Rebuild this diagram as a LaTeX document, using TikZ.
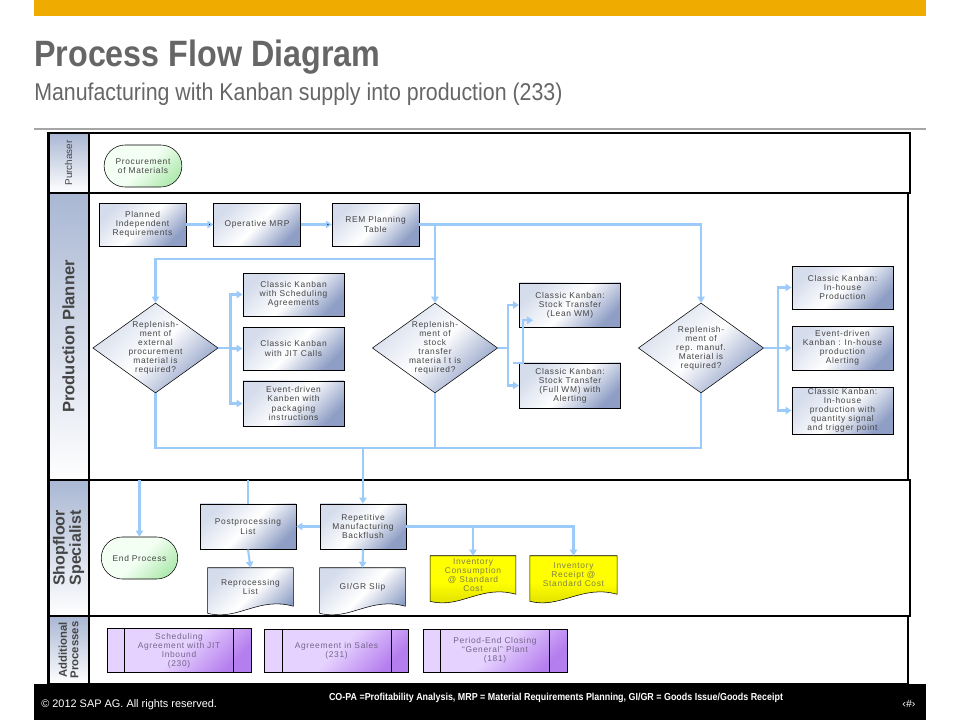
\documentclass[tikz,border=0pt]{standalone}
\usepackage{fontspec}
\setmainfont{Liberation Sans}
\newfontfamily\boxfont[LetterSpace=8]{Liberation Sans}
\newfontfamily\narrowfont[FakeStretch=0.88]{Liberation Sans}
\usepackage{tikz}
\usetikzlibrary{arrows.meta,calc,backgrounds,positioning,shapes.geometric,shapes.misc}

\definecolor{sapgold}{HTML}{F0AB00}
\definecolor{titlegrey}{HTML}{666666}
\definecolor{txtgrey}{HTML}{454545}
\definecolor{flowblue}{HTML}{9CCBFA}
\definecolor{boxdark}{HTML}{8E9EC5}
\definecolor{boxlight}{HTML}{D5DCEB}
\definecolor{lanedark}{HTML}{A9B7D3}
\definecolor{greenlight}{HTML}{F2FFF2}
\definecolor{greendark}{HTML}{B3EAB3}
\definecolor{purplelight}{HTML}{E6D2FF}
\definecolor{purpledark}{HTML}{B57EEE}
\definecolor{docyellow}{HTML}{FFFF00}
\definecolor{docdark}{HTML}{D8D800}
\definecolor{yellowtxt}{HTML}{80804A}
\definecolor{purpletxt}{HTML}{74658A}

\begin{document}
\begin{tikzpicture}[x=0.75pt,y=-0.75pt,
	font={\boxfont\fontsize{6.3}{6.8}\selectfont},
	box/.style={rectangle,draw,thin,align=center,text=txtgrey,inner sep=1pt,
		minimum width=65pt,minimum height=32pt,
		top color=boxlight,bottom color=boxdark,middle color=white,shading angle=45},
	wbox/.style={box,minimum width=76pt},
	dia/.style={diamond,draw,thin,align=center,text=txtgrey,inner sep=-8pt,
		minimum width=94pt,minimum height=67.5pt,
		top color=boxlight,bottom color=boxdark,middle color=white,shading angle=45},
	term/.style={rounded rectangle,draw,thin,align=center,text=txtgrey,
		minimum width=65pt,minimum height=31.5pt,
		top color=greenlight,bottom color=greendark,middle color=greenlight,shading angle=45},
	doc/.style={rectangle,align=center,text=txtgrey,inner sep=1pt,
		minimum width=64pt,minimum height=28.5pt},
	ydoc/.style={doc,text=yellowtxt},
	subproc/.style={rectangle,draw,thin,align=center,text=purpletxt,
		minimum width=108pt,minimum height=32pt,
		top color=purplelight,bottom color=purpledark,middle color=purplelight,shading angle=45},
	lanelab/.style={rectangle,draw,line width=1.5pt,rotate=90,align=center,text=txtgrey,
		minimum height=30pt,inner sep=1pt,top color=lanedark,bottom color=white},
	lane/.style={draw,line width=1.5pt},
	flow/.style={draw=flowblue,line width=1.6pt,-{Triangle[length=4.5pt,width=5.5pt]}},
	conn/.style={draw=flowblue,line width=1.6pt}]
	\useasboundingbox (0,0) rectangle (960,720);
	% Kopf
		\fill[sapgold] (34,0) rectangle (926,16);
		\node (title) [anchor=base west,inner sep=0pt,text=titlegrey,
			font={\narrowfont\bfseries\fontsize{27.5}{30}\selectfont}] at (34,67) {Process Flow Diagram};
		\node (subtitle) [anchor=base west,inner sep=0pt,text=titlegrey,
			font={\narrowfont\fontsize{18.2}{22}\selectfont}] at (34,101) {Manufacturing with Kanban supply into production (233)};
		\draw[gray!70,line width=0.8pt] (34,129) -- (926,129);
	% Bahnen
		\draw[lane] (48,133) rectangle (910,193);
		\draw[lane] (48,193) rectangle (908,480);
		\draw[lane] (48,480) rectangle (910,616);
		\draw[lane] (48,616) rectangle (908,684);
		\node (lpur) [lanelab,minimum width=45pt,font={\fontsize{7.4}{8}\selectfont}] at (68.5,163) {Purchaser};
		\node (lpp) [lanelab,minimum width=215.25pt,font={\bfseries\fontsize{12.4}{14}\selectfont}] at (68.5,336.5) {Production Planner};
		\node (lsf) [lanelab,minimum width=102pt,font={\bfseries\fontsize{12}{10.5}\selectfont}] at (68.5,548) {Shopfloor\\Specialist};
		\node (lap) [lanelab,minimum width=51pt,font={\bfseries\fontsize{8.5}{8.6}\selectfont}] at (68.5,650) {Additional\\Processes};
		\coordinate (sftop) at (0,480);
	% Knoten
		\node (proc) [term] at (143,166) {Procurement\\of Materials};
		\node (pir) [box] at (142.5,224.5) {Planned\\Independent\\Requirements};
		\node (mrp) [box] at (257,224.5) {Operative MRP};
		\node (rem) [box] at (375.5,224.5) {REM Planning\\Table};
		\node (dia1) [dia] at (155.5,348) {Replenish-\\ment of\\external\\procurement\\material is\\required?};
		\node (csa) [wbox] at (293.5,294.5) {Classic Kanban\\with Scheduling\\Agreements};
		\node (jit) [wbox] at (293.5,348.5) {Classic Kanban\\with JIT Calls};
		\node (evp) [wbox,minimum height=34pt] at (293.5,403.5) {Event-driven\\Kanben with\\packaging\\instructions};
		\node (dia2) [dia] at (435,348) {Replenish-\\ment of\\stock\\transfer\\materia l t is\\required?};
		\node (lean) [wbox,minimum height=33pt] at (570,305) {Classic Kanban:\\Stock Transfer\\(Lean WM)};
		\node (fullwm) [wbox,minimum height=34pt] at (570,385.5) {Classic Kanban:\\Stock Transfer\\(Full WM) with\\Alerting};
		\node (dia3) [dia] at (701,348) {Replenish-\\ment of\\rep. manuf.\\Material is\\required?};
		\node (cip) [wbox] at (842.5,287.5) {Classic Kanban:\\In-house\\Production};
		\node (eda) [wbox,minimum height=33pt] at (842.5,348) {Event-driven\\Kanban : In-house\\production\\Alerting};
		\node (cqs) [wbox,minimum height=34pt] at (842.5,410.5) {Classic Kanban:\\In-house\\production with\\quantity signal\\and trigger point};
		\node (endp) [term,minimum width=64pt] at (139.5,558) {End Process};
		\node (post) [box,minimum width=72pt,minimum height=34pt] at (248,526.5) {Postprocessing\\List};
		\node (rmb) [box,minimum width=64.5pt,minimum height=34pt] at (363,526.5) {Repetitive\\Manufacturing\\Backflush};
		\node (repro) [doc] at (250.5,587) {Reprocessing\\List};
		\node (gigr) [doc] at (362.5,587) {GI/GR Slip};
		\node (invcons) [ydoc] at (473,575) {Inventory\\Consumption\\@ Standard\\Cost};
		\node (invrec) [ydoc,minimum width=65pt] at (573.5,575) {Inventory\\Receipt @\\Standard Cost};
		\node (sja) [subproc] at (179,650.5) {Scheduling\\Agreement with JIT\\Inbound\\(230)};
		\node (ais) [subproc] at (336.5,650.5) {Agreement in Sales\\(231)};
		\node (pec) [subproc] at (495,650.5) {Period-End Closing\\“General” Plant\\(181)};
		\foreach \n in {sja,ais,pec} {
			\draw ($(\n.north west)+(18,0)$) -- ($(\n.south west)+(18,0)$);
			\draw ($(\n.north east)+(-18,0)$) -- ($(\n.south east)+(-18,0)$);
		}
		\begin{scope}[on background layer]
			\foreach \n in {repro,gigr}
				\draw[thin,top color=boxlight,bottom color=boxdark,middle color=white,shading angle=45]
					(\n.north west) -- (\n.north east) -- (\n.south east)
					.. controls +(-35,-10) and +(30,8) .. ($(\n.south west)+(0,7)$) -- cycle;
			\foreach \n in {invcons,invrec}
				\draw[thin,top color=docyellow,bottom color=docdark,middle color=docyellow]
					(\n.north west) -- (\n.north east) -- (\n.south east)
					.. controls +(-35,-10) and +(30,8) .. ($(\n.south west)+(0,7)$) -- cycle;
		\end{scope}
	% Kanten
		\coordinate (j1) at (435,259);
		\coordinate (bus) at (435,448);
		\draw[flow] (pir) edge (mrp);
		\draw[flow] (mrp) edge (rem);
		\draw[flow] (rem.east) -| (dia3.north);
		\draw[flow] (rem.east -| dia2.north) -- (dia2.north);
		\draw[flow] (j1) -| (dia1.north);
		\foreach \z in {csa,jit,evp} \draw[flow] (dia1.east) -- ++(12,0) |- (\z.west);
		\foreach \z in {lean,fullwm} \draw[flow] (dia2.east) -- ++(10,0) |- (\z.west);
		\draw[flow] ($(fullwm.north west)+(-6,0)$) -- ++(10,0) |- ($(lean.south west)+(14,-7)$);
		\foreach \z in {cip,eda,cqs} \draw[flow] (dia3.east) -- ++(14,0) |- (\z.west);
		\draw[conn] (dia1.south) -- (dia1.south |- bus) -- (dia3.south |- bus) -- (dia3.south);
		\draw[conn] (dia2.south) -- (bus);
		\draw[flow] (rmb.north |- bus) -- (rmb.north);
		\draw[flow] (endp.north |- sftop) -- (endp.north);
		\draw[conn] (post.north |- sftop) -- (post.north);
		\draw[flow] (rmb.west) -- (post.east);
		\draw[flow] (post.south) -- (repro.north);
		\draw[flow] (rmb.south) -- (gigr.north);
		\draw[flow] (rmb.east) -| (invcons.north);
		\draw[flow] (rmb.east) -| (invrec.north);
	% Fuss
		\fill[black] (34,684) rectangle (926,720);
		\node (copy) [anchor=base west,inner sep=0pt,text=white,font={\fontsize{8.2}{9}\selectfont}] at (41,707) {\textcopyright\ 2012 SAP AG. All rights reserved.};
		\node (abbr) [anchor=base,inner sep=0pt,text=white,font={\narrowfont\bfseries\fontsize{7.6}{8}\selectfont}] at (556,700) {CO-PA =Profitability Analysis, MRP = Material Requirements Planning, GI/GR = Goods Issue/Goods Receipt};
		\node (pnum) [anchor=base,inner sep=0pt,text=white,font={\fontsize{8}{9}\selectfont}] at (909,707) {‹\#›};
\end{tikzpicture}
\end{document}
